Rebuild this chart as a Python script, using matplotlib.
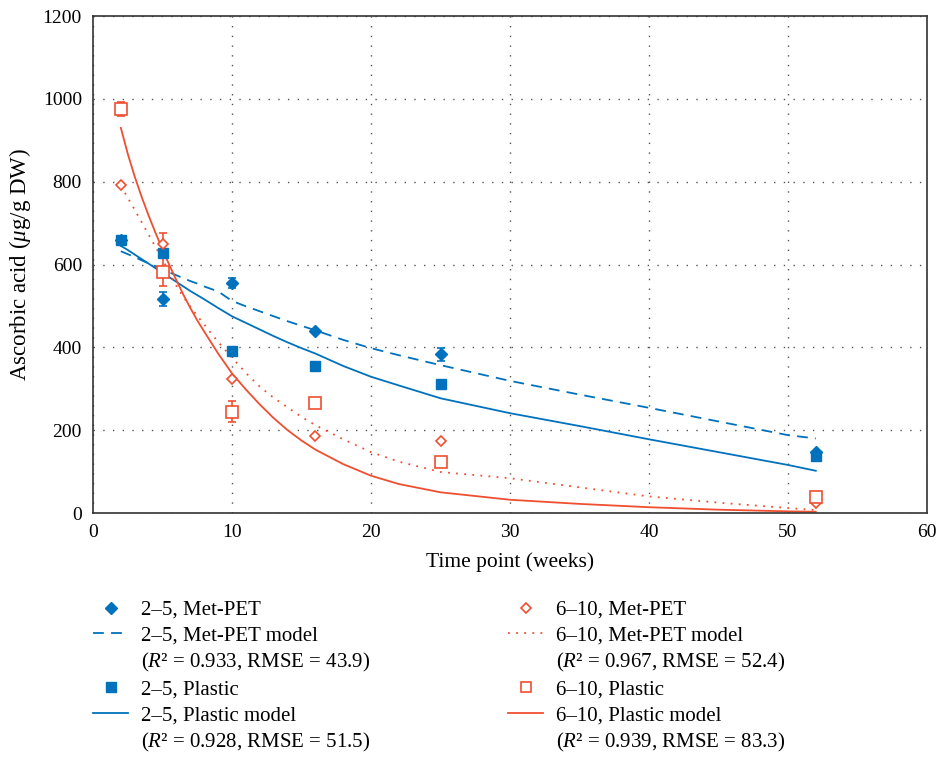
import matplotlib
matplotlib.use("Agg")
import matplotlib.pyplot as plt
from matplotlib.lines import Line2D

plt.rcParams["font.family"] = ["Liberation Serif", "DejaVu Serif"]
plt.rcParams["mathtext.fontset"] = "custom"
plt.rcParams["mathtext.rm"] = "Liberation Serif"
plt.rcParams["mathtext.it"] = "Liberation Serif:italic"

BLUE = "#0072BD"
RED = "#EF4F31"

# measured time points (weeks)
weeks = [2, 5, 10, 16, 25, 52]

# 2-5 group
metpet_25 = [660, 517, 556, 440, 383, 148]
metpet_25_err = [0, 17, 12, 5, 15, 0]
plastic_25 = [660, 627, 391, 356, 312, 137]

# 6-10 group
metpet_610 = [792, 650, 324, 187, 175, 24]
metpet_610_err = [0, 27, 0, 0, 0, 0]
plastic_610 = [976, 582, 245, 266, 123, 38]
plastic_610_err = [17, 35, 25, 0, 0, 0]

# model curves
model_t = [2, 2.5, 3, 3.5, 4, 4.5, 5, 5.5, 6, 6.5, 7, 7.5, 8, 9, 10, 11, 12, 13, 14, 15, 16,
           18, 20, 22, 25, 30, 35, 40, 45, 50, 52]
model_metpet_25 = [632, 625, 618, 610, 603, 596, 588, 581, 574, 567, 560, 554, 547, 535, 512, 499,
                   487, 475, 463, 452, 441, 418, 398, 381, 357, 319, 286, 254, 221, 188, 180]
model_plastic_25 = [645, 635, 624, 613, 602, 591, 580, 569, 558, 547, 536, 526, 516, 495, 475, 459,
                    443, 427, 412, 398, 385, 355, 329, 308, 277, 241, 210, 178, 147, 116, 102]
model_metpet_610 = [790, 761, 732, 702, 672, 642, 612, 580, 548, 522, 498, 476, 455, 413, 375, 338,
                    305, 278, 255, 232, 212, 178, 147, 124, 99, 84, 62, 40, 25, 12, 7]
model_plastic_610 = [930, 867, 812, 763, 718, 676, 636, 598, 562, 527, 495, 465, 438, 385, 337, 298,
                     262, 229, 200, 175, 153, 118, 90, 70, 50, 32, 22, 14, 8, 4, 3]

fig = plt.figure(figsize=(9.37, 7.59), dpi=100)
ax = fig.add_axes([0.0993, 0.3241, 0.8900, 0.6548])

# model lines
ax.plot(model_t, model_metpet_25, color=BLUE, lw=1.3, ls=(0, (6, 4)))
ax.plot(model_t, model_plastic_25, color=BLUE, lw=1.3)
ax.plot(model_t, model_metpet_610, color=RED, lw=1.3, ls=(0, (1, 3.5)))
ax.plot(model_t, model_plastic_610, color=RED, lw=1.3)

# data points with error bars
ax.errorbar(weeks, metpet_25, yerr=metpet_25_err, fmt="D", color=BLUE, ms=6, capsize=3,
            elinewidth=1.2, capthick=1.2, mec=BLUE)
ax.errorbar(weeks, plastic_25, fmt="s", color=BLUE, ms=7.5, mec=BLUE)
ax.errorbar(weeks, metpet_610, yerr=metpet_610_err, fmt="D", color=RED, mfc="white", ms=5.5,
            mew=1.2, capsize=3, elinewidth=1.2, capthick=1.2)
ax.errorbar(weeks, plastic_610, yerr=plastic_610_err, fmt="s", color=RED, mfc="white", ms=8,
            mew=1.2, capsize=3, elinewidth=1.2, capthick=1.2)

ax.set_xlim(0, 60)
ax.set_ylim(0, 1200)
ax.set_xticks(range(0, 61, 10))
ax.set_yticks(range(0, 1201, 200))
ax.tick_params(length=0, labelsize=14, pad=8)
ax.grid(True, color="#555555", lw=1.0, ls=(0, (1, 6)))
for s in ax.spines.values():
    s.set_linewidth(1.2)
    s.set_color("#333333")

ax.set_xlabel("Time point (weeks)", fontsize=15.5, labelpad=8)
ax.set_ylabel("Ascorbic acid ($\\mu$g/g DW)", fontsize=16.5, labelpad=7)

# legends (two columns, no frame)
blank = Line2D([], [], color="none")
left_h = [Line2D([], [], color=BLUE, marker="D", ls="none", ms=6),
          Line2D([], [], color=BLUE, lw=1.3, ls=(0, (6, 4))),
          blank,
          Line2D([], [], color=BLUE, marker="s", ls="none", ms=7),
          Line2D([], [], color=BLUE, lw=1.3),
          blank]
left_l = ["2–5, Met-PET",
          "2–5, Met-PET model",
          "($R$² = 0.933, RMSE = 43.9)",
          "2–5, Plastic",
          "2–5, Plastic model",
          "($R$² = 0.928, RMSE = 51.5)"]
right_h = [Line2D([], [], color=RED, marker="D", mfc="white", ls="none", ms=5.5, mew=1.2),
           Line2D([], [], color=RED, lw=1.3, ls=(0, (1, 3.5))),
           blank,
           Line2D([], [], color=RED, marker="s", mfc="white", ls="none", ms=7, mew=1.2),
           Line2D([], [], color=RED, lw=1.3),
           blank]
right_l = ["6–10, Met-PET",
           "6–10, Met-PET model",
           "($R$² = 0.967, RMSE = 52.4)",
           "6–10, Plastic",
           "6–10, Plastic model",
           "($R$² = 0.939, RMSE = 83.3)"]

for h, l, x0 in [(left_h, left_l, 0.0993), (right_h, right_l, 0.542)]:
    fig.legend(h, l, loc="upper left", bbox_to_anchor=(x0, 0.209), frameon=False,
               fontsize=15, handlelength=1.7, handletextpad=0.6, labelspacing=0.28,
               borderpad=0, borderaxespad=0)

fig.savefig("out.png", dpi=100)
